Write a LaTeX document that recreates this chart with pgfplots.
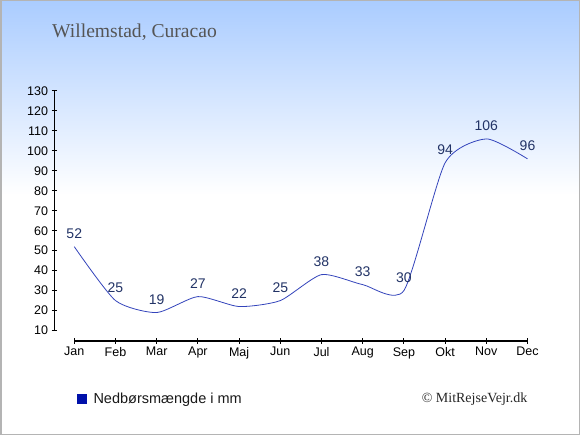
\documentclass[border=0pt]{standalone}
\usepackage{pgfplots}
\pgfplotsset{compat=1.18}
\usepackage{fontspec}
\setmainfont{Liberation Sans}
\newfontfamily\seriffont{Liberation Serif}
\definecolor{cTop}{HTML}{AACCFF}
\definecolor{lineC}{HTML}{3344BB}
\definecolor{labC}{HTML}{223366}
\definecolor{legC}{HTML}{0011AA}
\definecolor{borderC}{HTML}{B4B4B4}
\definecolor{titleC}{HTML}{555555}
\begin{document}
\begin{tikzpicture}
\useasboundingbox (0,0) rectangle (580pt,-435pt);
\shade[top color=cTop, bottom color=white] (0,0) rectangle (580pt,-195pt);
\fill[white] (0,-195pt) rectangle (580pt,-435pt);
\begin{axis}[
  at={(54.3pt,-341pt)}, anchor=south west,
  scale only axis, width=473.2pt, height=250pt,
  xmin=-0.485, xmax=11, ymin=4.75, ymax=130,
  axis lines=left, axis line style={draw=none,-},
  clip=false,
  xtick={0,...,11},
  xticklabels={Jan,Feb,Mar,Apr,Maj,Jun,Jul,Aug,Sep,Okt,Nov,Dec},
  ytick={10,20,...,130},
  tick align=center, major tick length=5.5pt,
  tick style={black, line width=1pt},
  ticklabel style={font=\fontsize{12.5}{14}\selectfont, text=black},
  /pgf/number format/assume math mode=true,
]
\addplot[color=lineC, line width=0.8pt, smooth, tension=0.38, mark=none,
  nodes near coords,
  nodes near coords style={font=\fontsize{14}{16}\selectfont, text=labC, anchor=base, yshift=8pt, inner sep=0pt},
  /pgf/number format/assume math mode=true]
  coordinates {(0,52)(1,25)(2,19)(3,27)(4,22)(5,25)(6,38)(7,33)(8,30)(9,94)(10,106)(11,96)};
\draw[black, line width=1.1pt] (axis cs:0,4.75) -- (axis cs:11,4.75);
\draw[black, line width=1.1pt] (axis cs:-0.485,10) -- (axis cs:-0.485,130);
\end{axis}
\node[anchor=base west, inner sep=0pt, text=titleC, font=\seriffont\fontsize{19.6}{22}\selectfont] at (52pt,-37.3pt) {Willemstad, Curacao};
\fill[legC] (77.3pt,-394pt) rectangle (86.7pt,-404pt);
\node[anchor=base west, inner sep=0pt, text=black!90, font=\fontsize{14.5}{17}\selectfont] at (93.3pt,-403.3pt) {Nedbørsmængde i mm};
\node[anchor=base east, inner sep=0pt, text=black!85, font=\seriffont\fontsize{14}{16}\selectfont] at (527.5pt,-402.3pt) {© MitRejseVejr.dk};
\draw[borderC, line width=1.5pt] (0.75pt,-0.75pt) rectangle (579.25pt,-434.25pt);
\end{tikzpicture}
\end{document}
